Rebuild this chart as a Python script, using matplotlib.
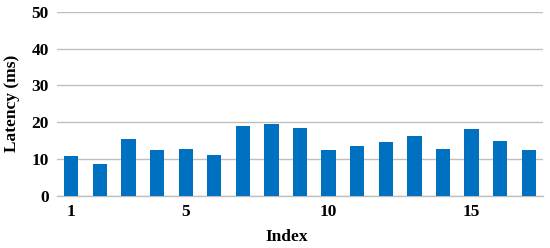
import matplotlib
matplotlib.use("Agg")
import matplotlib.pyplot as plt
import numpy as np

indices = list(range(1, 18))
latency = [10.8, 8.55, 15.5, 12.45, 12.7, 11.1, 18.9, 19.5, 18.4, 12.5, 13.5, 14.5, 16.2, 12.7, 18.1, 14.8, 12.4]
xtick_labels = ["1", "5", "10", "15"]
yticks = [0, 10, 20, 30, 40, 50]

plt.rcParams['font.family'] = ['Liberation Serif', 'DejaVu Serif']
plt.rcParams['font.weight'] = 'bold'

fig = plt.figure(figsize=(5.5, 2.48), dpi=100)
ax = fig.add_axes([57/550, 52.3/248, 486/550, 183.7/248])

pos = np.arange(len(indices))
ax.bar(pos, latency, width=0.5, color='#0070C0', zorder=3)

ax.set_xlim(-0.5, len(indices) - 0.5)
ax.set_ylim(0, 50)
ax.set_yticks(yticks)
ax.set_yticklabels([str(v) for v in yticks], fontsize=12.5, fontweight='bold')
tick_pos = [indices.index(int(t)) for t in xtick_labels]
ax.set_xticks(tick_pos)
ax.set_xticklabels(xtick_labels, fontsize=12.5, fontweight='bold')
ax.tick_params(axis='both', length=0)
ax.tick_params(axis='y', pad=6)
ax.tick_params(axis='x', pad=6)

ax.grid(axis='y', color='#BFBFBF', linewidth=1.0, zorder=0)
for s in ['top', 'right', 'left']:
    ax.spines[s].set_visible(False)
ax.spines['bottom'].set_color('#BFBFBF')
ax.spines['bottom'].set_linewidth(1.0)

ax.set_ylabel('Latency (ms)', fontsize=12.5, fontweight='bold', labelpad=8)
fig.text(287/550, 1 - 237/248, 'Index', ha='center', va='center', fontsize=12.5, fontweight='bold')

fig.savefig('out.png', dpi=100)
